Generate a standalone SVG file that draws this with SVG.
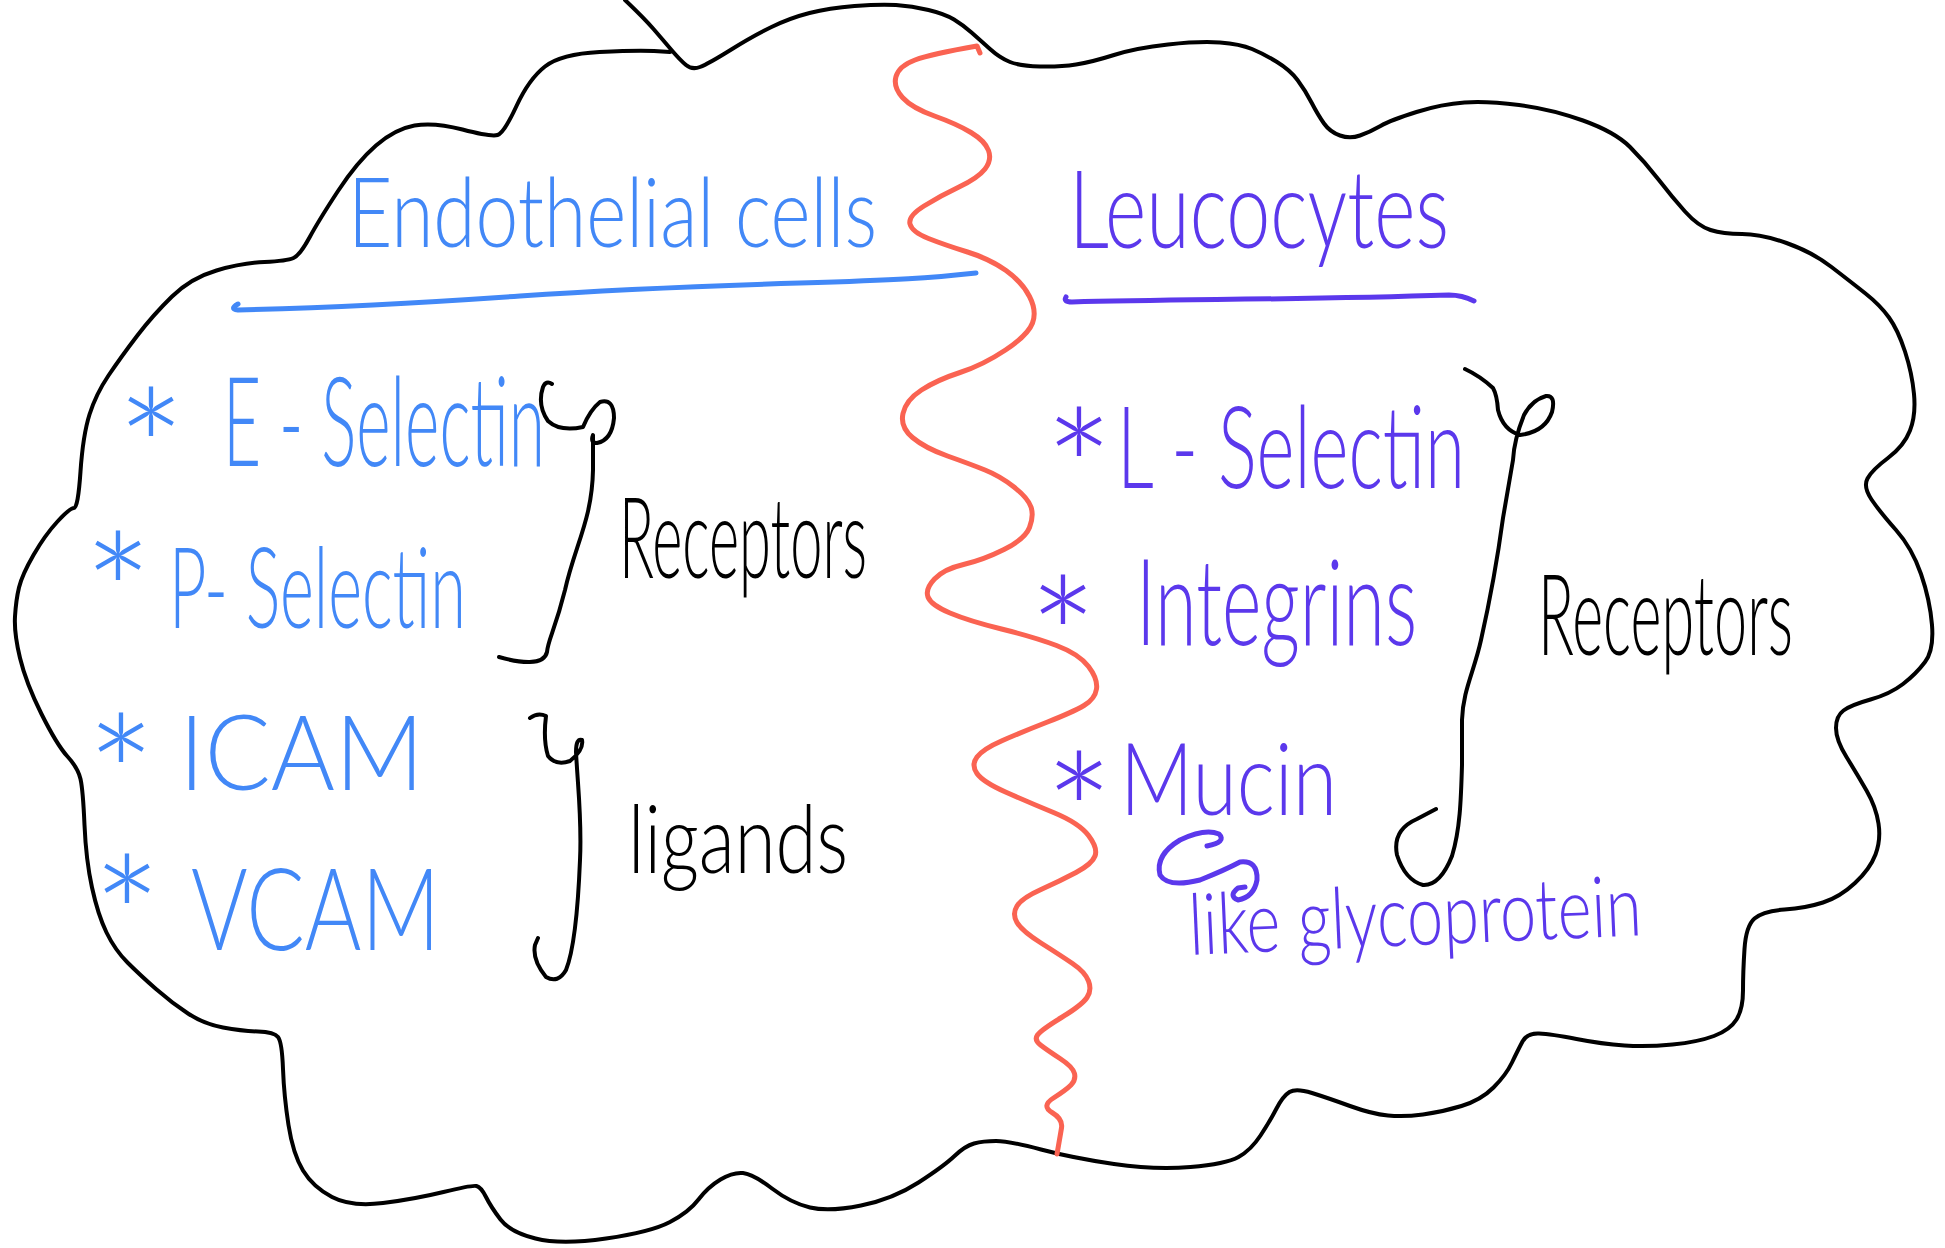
<svg xmlns="http://www.w3.org/2000/svg" width="1945" height="1248" viewBox="0 0 1945 1248">
<style>
.ln{fill:none;stroke-linecap:round;stroke-linejoin:round}
.k{stroke:#000;stroke-width:4}
.r{stroke:#fa6352;stroke-width:5}
.bs{stroke:#4288f7;stroke-width:5}
.ps{stroke:#5b38ec;stroke-width:5}
.hw{font-family:Lato,"Liberation Sans",sans-serif;font-weight:300}
.blue{fill:#4288f7}
.purple{fill:#5b38ec}
.black{fill:#000}
.ast{font-family:Lato,"Liberation Sans",sans-serif;font-weight:300;font-size:165px;text-anchor:middle}
</style>
<rect width="1945" height="1248" fill="#fff"/>
<g id="cloud">
<path class="ln k" d="M625,0 Q644,18 653.5,29 Q663,40 671.5,50 Q680,60 686,65 Q692,70 700,67 Q708,64 730.5,50 Q753,36 771.5,27 Q790,18 809.5,13 Q829,8 854.5,6 Q880,4 896,5 Q912,6 928.5,10 Q945,14 954,19.5 Q963,25 971.5,32.5 Q980,40 990,49 Q1000,58 1010,62 Q1020,66 1040,66.5 Q1060,67 1076,64.5 Q1092,62 1114,55 Q1136,48 1168,44.5 Q1200,41 1220,42.5 Q1240,44 1252,49 Q1264,54 1277,62 Q1290,70 1297.5,80 Q1305,90 1311.5,102.5 Q1318,115 1324,123.5 Q1330,132 1340,135.5 Q1350,139 1360,135.5 Q1370,132 1380.5,126 Q1391,120 1416.5,112 Q1442,104 1464.5,102.5 Q1487,101 1519,105 Q1551,109 1583,120.5 Q1615,132 1630,147 Q1645,162 1658.5,179.5 Q1672,197 1685,211.5 Q1698,226 1710.5,230 Q1723,234 1742,234 Q1761,234 1786.5,243 Q1812,252 1831.5,267 Q1851,282 1865.5,293.5 Q1880,305 1889,317.5 Q1898,330 1905,351.5 Q1912,373 1914,394 Q1916,415 1910,430.5 Q1904,446 1888,458 Q1872,470 1867.5,478.5 Q1863,487 1871.5,499.5 Q1880,512 1896,530 Q1912,548 1921,574 Q1930,600 1932,625 Q1934,650 1925,662 Q1916,674 1903,684 Q1890,694 1870.5,699.5 Q1851,705 1843.5,710.5 Q1836,716 1836,728 Q1836,740 1846.5,757 Q1857,774 1866.5,790.5 Q1876,807 1878.5,823.5 Q1881,840 1875.5,854.5 Q1870,869 1855,883 Q1840,897 1823,902.5 Q1806,908 1784.5,909.5 Q1763,911 1754.5,918.5 Q1746,926 1744.5,949 Q1743,972 1743,990.5 Q1743,1009 1736.5,1019.5 Q1730,1030 1714,1036 Q1698,1042 1672.5,1044.5 Q1647,1047 1624.5,1045.5 Q1602,1044 1576.5,1039 Q1551,1034 1539,1033.5 Q1527,1033 1522.5,1041.5 Q1518,1050 1512,1062.5 Q1506,1075 1493.5,1087.5 Q1481,1100 1461.5,1106 Q1442,1112 1423,1114.5 Q1404,1117 1388,1115.5 Q1372,1114 1350,1106 Q1328,1098 1312,1093 Q1296,1088 1289.5,1092 Q1283,1096 1276.5,1108.5 Q1270,1121 1260.5,1135.5 Q1251,1150 1238.5,1157 Q1226,1164 1190.5,1167 Q1155,1170 1114,1164 Q1073,1158 1041,1149.5 Q1009,1141 996,1141 Q983,1141 974,1143.5 Q965,1146 954.5,1156 Q944,1166 918.5,1182.5 Q893,1199 861,1205.5 Q829,1212 810,1207.5 Q791,1203 772,1188.5 Q753,1174 743,1173 Q733,1172 720.5,1179.5 Q708,1187 698.5,1199.5 Q689,1212 670,1222 Q651,1232 606,1238.5 Q561,1245 535.5,1238.5 Q510,1232 500.5,1219.5 Q491,1207 486,1197 Q481,1187 476.5,1186 Q472,1185 443.5,1192 Q415,1199 383,1203 Q351,1207 332,1197 Q313,1187 303,1170.5 Q293,1154 288.5,1125 Q284,1096 283,1069 Q282,1042 278,1037 Q274,1032 258,1031.5 Q242,1031 223,1027.5 Q204,1024 188,1013.5 Q172,1003 156,989 Q140,975 127.5,962.5 Q115,950 106.5,932.5 Q98,915 92,887.5 Q86,860 84.5,825 Q83,790 80.5,779 Q78,768 67.5,756.5 Q57,745 41.5,714 Q26,683 20,658 Q14,633 15,616.5 Q16,600 19,587.5 Q22,575 33.5,555 Q45,535 57.5,521.5 Q70,508 74,508 Q78,508 80.5,471.5 Q83,435 89.5,414.5 Q96,394 108.5,375.5 Q121,357 137,336 Q153,315 172,296.5 Q191,278 216.5,270.5 Q242,263 264.5,262 Q287,261 293.5,258 Q300,255 309.5,237.5 Q319,220 338,191 Q357,162 376,145.5 Q395,129 414.5,125.5 Q434,122 462.5,129.5 Q491,137 497.5,135 Q504,133 516.5,106 Q529,79 545,66.5 Q561,54 599.5,52 Q638,50 654,51 L670,52"/>
</g>
<g id="divider">
<path class="ln r" d="M980,53 L977,46 Q931,54 915,60 Q899,66 896,76.5 Q893,87 902.5,97.5 Q912,108 934.5,116 Q957,124 971,132.5 Q985,141 988.5,150.5 Q992,160 985,169 Q978,178 959,187 Q940,196 924,206 Q908,216 910,224 Q912,232 928.5,238.5 Q945,245 967.5,252 Q990,259 1006,270.5 Q1022,282 1029.5,296.5 Q1037,311 1032.5,323 Q1028,335 1005.5,350 Q983,365 960,372.5 Q937,380 921.5,390 Q906,400 903,413.5 Q900,427 912.5,437.5 Q925,448 947.5,456 Q970,464 985,470 Q1000,476 1014,487 Q1028,498 1031,507 Q1034,516 1029.5,527.5 Q1025,539 1004,549.5 Q983,560 963.5,564.5 Q944,569 934.5,579 Q925,589 928,597 Q931,605 950,613 Q969,621 1001.5,629 Q1034,637 1056.5,645.5 Q1079,654 1088.5,666.5 Q1098,679 1096.5,689 Q1095,699 1084,705.5 Q1073,712 1047.5,722 Q1022,732 1002.5,740.5 Q983,749 977,757 Q971,765 977,773.5 Q983,782 1005.5,792 Q1028,802 1053.5,812.5 Q1079,823 1088.5,835.5 Q1098,848 1095,856 Q1092,864 1076,872.5 Q1060,881 1041,889.5 Q1022,898 1017,906 Q1012,914 1017,922.5 Q1022,931 1041,943 Q1060,955 1072.5,963.5 Q1085,972 1088.5,981 Q1092,990 1087,997.5 Q1082,1005 1061.5,1017.5 Q1041,1030 1037.5,1035 Q1034,1040 1040.5,1045 Q1047,1050 1060,1058.5 Q1073,1067 1074.5,1073.5 Q1076,1080 1071,1085 Q1066,1090 1053.5,1098 Q1041,1106 1052,1112.5 Q1063,1119 1061.5,1128 Q1060,1137 1058.5,1145.5 L1057,1154"/>
</g>
<g id="endothelial-cells">
<text class="hw blue" x="348" y="247" font-size="96" textLength="529" lengthAdjust="spacingAndGlyphs">Endothelial cells</text>
<path class="ln bs" d="M238,304 Q229,309 238,310 C330,308 420,303 520,296 S700,286 800,283 S930,278 976,273"/>
<text class="ast blue" x="151" y="511">*</text>
<text class="hw blue" x="223" y="466" font-size="125" textLength="322" lengthAdjust="spacingAndGlyphs">E - Selectin</text>
<text class="ast blue" x="118" y="655">*</text>
<text class="hw blue" x="169" y="628" font-size="112" textLength="297" lengthAdjust="spacingAndGlyphs">P- Selectin</text>
<text class="ast blue" x="121" y="837">*</text>
<text class="hw blue" x="179" y="790" font-size="105" textLength="245" lengthAdjust="spacingAndGlyphs">ICAM</text>
<text class="ast blue" x="127" y="978">*</text>
<text class="hw blue" x="191" y="950" font-size="115" textLength="249" lengthAdjust="spacingAndGlyphs">VCAM</text>
</g>
<g id="left-braces">
<path class="ln k" d="M552,384 Q546,380 543,387 Q537,405 548,421 Q560,432 583,427 Q590,410 600,402 Q614,398 614,418 Q612,440 597,443 Q590,443 593,435 L593,470 C592,520 575,545 565,590 C555,630 548,640 547,652 C544,666 520,663 499,657"/>
<text class="hw black" x="619" y="578" font-size="112" textLength="248" lengthAdjust="spacingAndGlyphs">Receptors</text>
<path class="ln k" d="M530,718 Q538,712 546,716 Q543,740 548,756 Q556,766 570,761 Q584,750 582,740 Q576,738 576,752 C578,790 582,820 580,860 C578,910 574,950 566,970 Q558,984 546,977 Q532,960 535,945 L538,938"/>
<text class="hw black" x="628" y="873" font-size="95" textLength="220" lengthAdjust="spacingAndGlyphs">ligands</text>
</g>
<g id="leucocytes">
<text class="hw purple" x="1069" y="248" font-size="108" textLength="380" lengthAdjust="spacingAndGlyphs">Leucocytes</text>
<path class="ln ps" d="M1066,297 Q1063,302 1072,302 C1180,299 1300,300 1449,295 Q1462,295 1474,301"/>
<text class="ast purple" x="1079" y="531">*</text>
<text class="hw purple" x="1117" y="488" font-size="115" textLength="348" lengthAdjust="spacingAndGlyphs">L - Selectin</text>
<text class="ast purple" x="1063" y="699">*</text>
<text class="hw purple" x="1136" y="645" font-size="120" textLength="281" lengthAdjust="spacingAndGlyphs">Integrins</text>
<text class="ast purple" x="1079" y="875">*</text>
<text class="hw purple" x="1120" y="815" font-size="100" textLength="217" lengthAdjust="spacingAndGlyphs">Mucin</text>
<path class="ln ps" d="M1207,846 Q1227,842 1219,834 Q1205,828 1180,840 Q1155,855 1160,875 Q1168,888 1200,880 Q1225,870 1240,862 Q1258,860 1257,880 Q1254,897 1238,900 Q1228,896 1238,888 L1245,887"/>
<text class="hw purple" x="1190" y="955" font-size="85" textLength="453" lengthAdjust="spacingAndGlyphs" transform="rotate(-2.5 1190 955)">like glycoprotein</text>
</g>
<g id="right-brace">
<path class="ln k" d="M1465,369 Q1480,376 1493,388 Q1497,395 1498,410 Q1503,430 1520,435 Q1545,432 1552,412 Q1556,395 1546,396 Q1532,400 1524,415 Q1514,440 1513,460 L1503,518 C1496,570 1490,600 1481,640 C1474,672 1463,690 1462,720 L1462,765 C1461,800 1460,830 1452,856 Q1440,886 1423,885 Q1405,880 1397,855 Q1392,830 1417,819 L1436,809"/>
<text class="hw black" x="1538" y="655" font-size="112" textLength="255" lengthAdjust="spacingAndGlyphs">Receptors</text>
</g>
</svg>
